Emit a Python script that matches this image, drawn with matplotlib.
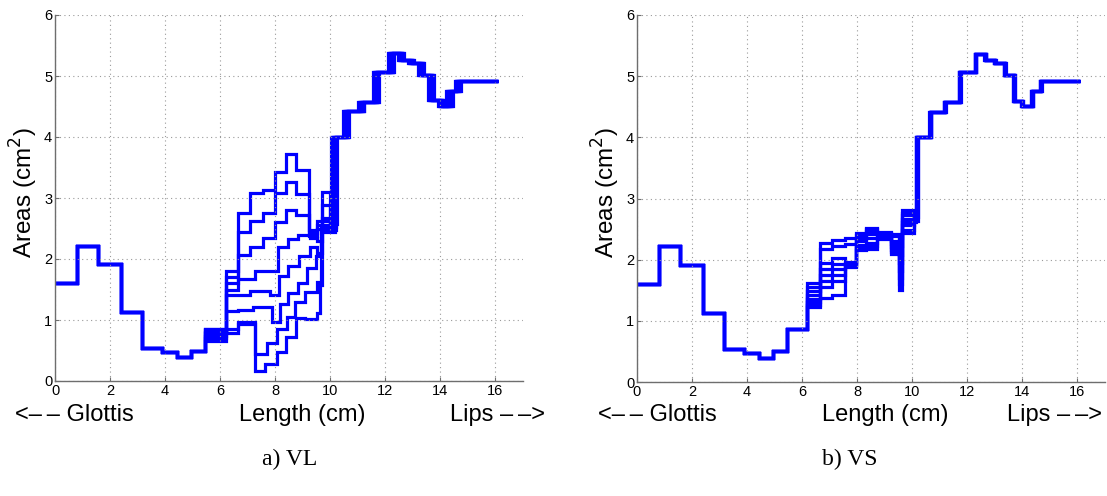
import matplotlib
matplotlib.use('Agg')
import matplotlib.pyplot as plt

plt.rcParams['font.family'] = ['Liberation Sans', 'DejaVu Sans']

# glottis part, same for every area function
glottis_edges = [0.0, 0.80, 1.56, 2.41, 3.17, 3.89, 4.44, 4.93, 5.46]
glottis_areas = [1.60, 2.22, 1.91, 1.13, 0.54, 0.47, 0.39, 0.50]

# lips part (areas shared, start of each section per panel, plus a shift per curve)
lips_areas = [4.00, 4.42, 4.57, 5.07, 5.37, 5.27, 5.22, 5.02, 4.60, 4.51, 4.75, 4.92]
vl_lips_edges = [10.03, 10.47, 11.02, 11.55, 12.10, 12.46, 12.82, 13.19, 13.55, 13.91, 14.22, 14.52]
vs_lips_edges = [10.13, 10.62, 11.14, 11.69, 12.26, 12.62, 12.96, 13.32, 13.66, 13.95, 14.32, 14.63]
lips_end = 16.08
vl_shift = [0.00, 0.22, 0.06, 0.16, 0.03, 0.19, 0.10, 0.13]
vs_shift = [0.00, 0.07, 0.02, 0.05, 0.035, 0.06, 0.01, 0.045]

# a) VL - middle sections
vl_mid_edges = [
    [5.46, 6.22, 6.66, 7.08, 7.57, 7.99, 8.39, 8.75, 9.24, 9.50, 9.70, 9.99],
    [5.46, 6.22, 6.66, 7.08, 7.57, 7.99, 8.39, 8.75, 9.24, 9.50, 9.70, 9.99],
    [5.46, 6.22, 6.66, 7.08, 7.57, 7.99, 8.39, 8.75, 9.24, 9.50, 9.70, 9.99],
    [5.46, 6.22, 6.66, 7.25, 8.11, 8.47, 8.82, 9.27, 9.50, 9.70, 9.99],
    [5.46, 6.22, 6.66, 7.08, 7.80, 8.13, 8.45, 8.85, 9.26, 9.52, 9.70, 9.99],
    [5.46, 6.22, 6.66, 7.20, 7.87, 8.17, 8.47, 8.83, 9.14, 9.48, 9.68, 9.99],
    [5.46, 6.22, 6.66, 7.26, 7.69, 8.05, 8.41, 8.72, 9.08, 9.50, 9.66, 9.99],
    [5.46, 6.22, 6.66, 7.26, 7.63, 8.05, 8.39, 8.75, 9.08, 9.50, 9.62, 9.70, 9.99],
]
vl_mid_areas = [
    [0.66, 1.81, 2.75, 3.08, 3.13, 3.43, 3.72, 3.46, 2.48, 2.62, 3.10, 2.62],
    [0.70, 1.71, 2.45, 2.62, 2.75, 3.08, 3.27, 3.07, 2.42, 2.55, 2.88, 2.58],
    [0.74, 1.61, 2.07, 2.20, 2.34, 2.60, 2.80, 2.72, 2.38, 2.50, 2.68, 2.55],
    [0.78, 1.49, 1.68, 1.80, 2.20, 2.33, 2.39, 2.35, 2.30, 2.62, 2.52],
    [0.80, 1.41, 1.41, 1.48, 1.41, 1.72, 1.89, 2.05, 2.20, 2.10, 2.56, 2.50],
    [0.83, 1.14, 1.17, 1.21, 0.97, 1.27, 1.44, 1.60, 1.85, 2.05, 2.53, 2.47],
    [0.86, 0.86, 0.97, 0.45, 0.62, 0.85, 1.05, 1.30, 1.46, 1.62, 2.50, 2.46],
    [0.86, 0.79, 0.93, 0.17, 0.28, 0.47, 0.72, 1.04, 1.01, 1.11, 1.57, 2.45, 2.45],
]

# b) VS - middle sections
vs_mid_edges = [5.46, 6.17, 6.64, 7.08, 7.57, 7.95, 8.32, 8.72, 9.22, 9.50, 9.63, 10.08]
vs_mid_areas = [
    [0.86, 1.62, 2.27, 2.32, 2.35, 2.44, 2.52, 2.46, 2.42, 2.35, 2.43, 2.62],
    [0.86, 1.55, 2.17, 2.22, 2.25, 2.40, 2.50, 2.44, 2.38, 2.22, 2.49, 2.64],
    [0.86, 1.48, 1.95, 2.03, 1.97, 2.36, 2.47, 2.42, 2.31, 2.08, 2.57, 2.66],
    [0.86, 1.42, 1.85, 1.93, 1.95, 2.33, 2.42, 2.40, 2.26, 1.95, 2.62, 2.67],
    [0.86, 1.36, 1.75, 1.84, 1.93, 2.30, 2.36, 2.38, 2.21, 1.82, 2.66, 2.68],
    [0.86, 1.30, 1.65, 1.75, 1.91, 2.24, 2.28, 2.36, 2.16, 1.70, 2.73, 2.69],
    [0.86, 1.26, 1.55, 1.65, 1.89, 2.19, 2.22, 2.35, 2.13, 1.60, 2.77, 2.70],
    [0.86, 1.23, 1.38, 1.43, 1.88, 2.16, 2.17, 2.34, 2.10, 1.50, 2.81, 2.71],
]

x_ticks = [0, 2, 4, 6, 8, 10, 12, 14, 16]
y_ticks = [0, 1, 2, 3, 4, 5, 6]

W, H = 1107, 496
fig = plt.figure(figsize=(W / 100, H / 100), dpi=100)


def draw_panel(ax, mids, lips_edges, shifts):
    for (m_edges, m_areas), s in zip(mids, shifts):
        edges = glottis_edges + m_edges[1:] + [e + s for e in lips_edges] + [lips_end]
        areas = glottis_areas + m_areas + lips_areas
        st = ax.stairs(areas, edges, baseline=None, color='#0000ff', lw=2.3)
        st.set_joinstyle('miter')
    ax.set_xlim(0, 17)
    ax.set_ylim(0, 6)
    ax.set_xticks(x_ticks)
    ax.set_yticks(y_ticks)
    ax.grid(True, ls=(0, (1, 3)), color='#9a9a9a', lw=0.8)
    for sp in ['top', 'right']:
        ax.spines[sp].set_visible(False)
    for sp in ['left', 'bottom']:
        ax.spines[sp].set_color('#6e6e6e')
        ax.spines[sp].set_linewidth(1.0)
    ax.tick_params(direction='in', length=3, color='#6e6e6e', labelsize=10.5, pad=2)
    ax.set_ylabel('Areas (cm$^2$)', fontsize=17.5)
    ax.yaxis.set_label_coords(-0.031, 0.516)


axL = fig.add_axes([55 / W, 1 - 381 / H, 468 / W, 366 / H])
draw_panel(axL, list(zip(vl_mid_edges, vl_mid_areas)), vl_lips_edges, vl_shift)

axR = fig.add_axes([637 / W, 1 - 382 / H, 468 / W, 367 / H])
draw_panel(axR, [(vs_mid_edges, a) for a in vs_mid_areas], vs_lips_edges, vs_shift)

# under-axis labels and captions
xl_y = 1 - 415 / H
for glot_x, len_x, lips_x, cap_x, cap in [(15, 302, 545, 290, 'a) VL'),
                                          (598, 885, 1102, 850, 'b) VS')]:
    fig.text(glot_x / W, xl_y, '<\u2013\u2009\u2013 Glottis', fontsize=17, va='center', ha='left')
    fig.text(len_x / W, xl_y, 'Length (cm)', fontsize=17, va='center', ha='center')
    fig.text(lips_x / W, xl_y, 'Lips \u2013\u2009\u2013>', fontsize=17, va='center', ha='right')
    fig.text(cap_x / W, 1 - 459 / H, cap, fontsize=17, va='center', ha='center',
             family=['Liberation Serif', 'DejaVu Serif'])

fig.savefig('out.png', dpi=100)
